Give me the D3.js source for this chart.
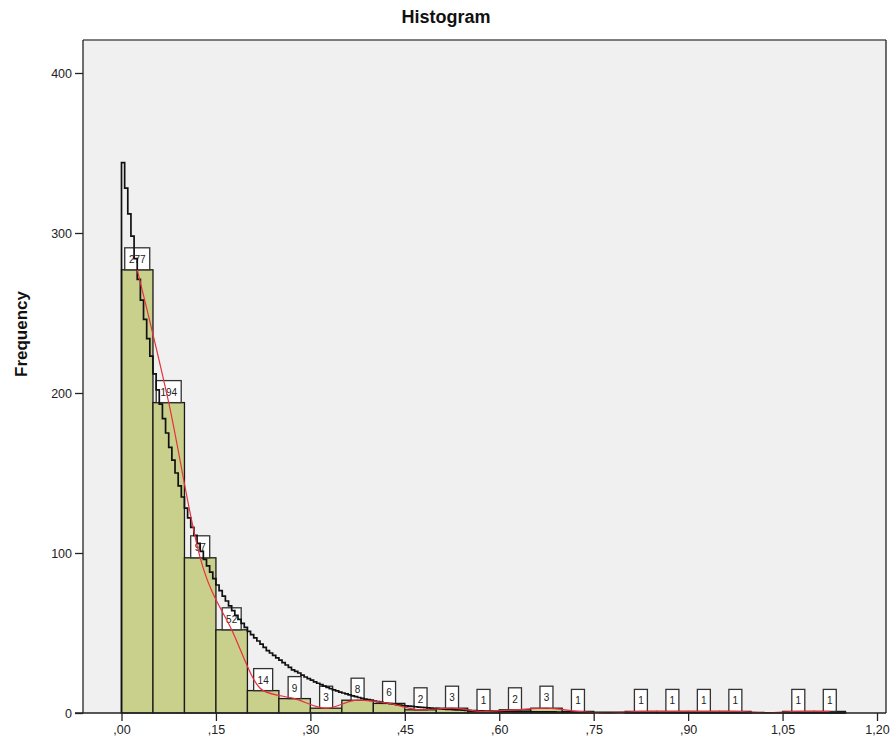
<!DOCTYPE html>
<html>
<head>
<meta charset="utf-8">
<script src="https://cdn.jsdelivr.net/npm/d3@7"></script>
<style>
  body { margin: 0; background: #ffffff; }
  svg { display: block; font-family: Arial, "Liberation Sans", sans-serif; }
</style>
</head>
<body>
<svg id="chart" width="894" height="746"></svg>
<script>
// ---- data ----
const binWidth = 0.05;
const binStarts = [0.00,0.05,0.10,0.15,0.20,0.25,0.30,0.35,0.40,0.45,0.50,0.55,0.60,0.65,0.70,0.75,0.80,0.85,0.90,0.95,1.00,1.05,1.10];
const binCounts = [277,194,97,52,14,9,3,8,6,2,3,1,2,3,1,0,1,1,1,1,0,1,1];
const yTicks = [0,100,200,300,400];
const xTicks = [0,0.15,0.30,0.45,0.60,0.75,0.90,1.05,1.20];
const xTickLabels = [",00",",15",",30",",45",",60",",75",",90","1,05","1,20"];
// fitted curve: head every 0.005 from 0 to 0.60
const headStep = 0.005;
const curveHeadFreq = [344,328,312,298,284,271,258,246,234,223,212,202,193,184,175,166,158,150,142,135,
  128,122,116,111,106,101,96,92,88,84,80,76.5,73,70,67,64,61,58.5,56,53.5,
  51,49,47,45,43,41,39,37.5,36,34.5,33,31.5,30,28.5,27,26,25,23.7,22.5,21.5,
  20.5,19.5,18.6,17.7,16.8,16,15.2,14.5,13.8,13.1,12.5,11.9,11.3,10.7,10.2,9.7,9.2,8.7,8.3,7.9,
  7.5,7.1,6.8,6.4,6.1,5.8,5.5,5.2,5.0,4.7,4.5,4.3,4.1,3.9,3.7,3.5,3.3,3.15,3.0,2.85,
  2.7,2.55,2.4,2.3,2.2,2.1,2.0,1.9,1.8,1.7,1.6,1.52,1.45,1.38,1.3,1.25,1.2,1.15,1.1,1.05,1.0];
// tail every 0.01 from 0.61 to 1.15
const tailStart = 0.61, tailStep = 0.01;
const curveTailFreq = [0.95,0.9,0.85,0.8,0.76,0.72,0.68,0.65,0.62,0.59,0.56,0.53,0.5,0.48,0.46,0.44,0.42,0.4,0.38,0.36,
  0.35,0.34,0.33,0.32,0.31,0.3,0.29,0.28,0.27,0.26,0.25,0.24,0.23,0.22,0.21,0.2,0.2,0.19,0.19,0.18,
  0.18,0.17,0.17,0.16,0.16,0.15,0.15,0.14,0.14,0.13,0.13,0.12,0.12,0.11,0.11];

// ---- layout ----
const svg = d3.select("#chart");
const plot = {left: 83, right: 886, top: 40, bottom: 713};
const x = d3.scaleLinear().domain([0, 1.2]).range([121.5, 877]);
const y = d3.scaleLinear().domain([0, 400]).range([713, 73]);

// plot background
svg.append("rect")
  .attr("x", plot.left).attr("y", plot.top)
  .attr("width", plot.right - plot.left).attr("height", plot.bottom - plot.top)
  .attr("fill", "#f0f0f0");

// title
svg.append("text")
  .attr("x", 446).attr("y", 23)
  .attr("text-anchor", "middle")
  .attr("font-size", 18).attr("font-weight", "bold")
  .attr("fill", "#111")
  .text("Histogram");

// y label
svg.append("text")
  .attr("transform", "translate(27,334) rotate(-90)")
  .attr("text-anchor", "middle")
  .attr("font-size", 17).attr("font-weight", "bold")
  .attr("fill", "#111")
  .text("Frequency");

// bars
const bins = binStarts.map((s, i) => ({x0: s, x1: s + binWidth, n: binCounts[i]})).filter(d => d.n > 0);
svg.append("g").selectAll("rect").data(bins).join("rect")
  .attr("x", d => x(d.x0)).attr("y", d => y(d.n))
  .attr("width", d => x(d.x1) - x(d.x0))
  .attr("height", d => y(0) - y(d.n))
  .attr("fill", "#c9d08b")
  .attr("stroke", "#1a1a1a").attr("stroke-width", 1.3);

// label boxes
const lab = svg.append("g").selectAll("g").data(bins).join("g")
  .attr("transform", d => `translate(${x(d.x0 + binWidth/2)},${y(d.n)})`);
lab.append("rect")
  .attr("x", d => -(7 + 6*String(d.n).length)/2)
  .attr("y", -22)
  .attr("width", d => 7 + 6*String(d.n).length)
  .attr("height", 22)
  .attr("fill", "#ffffff").attr("stroke", "#333").attr("stroke-width", 1.3);
lab.append("text")
  .attr("x", 0).attr("y", -7)
  .attr("text-anchor", "middle")
  .attr("font-size", 10).attr("fill", "#222")
  .text(d => d.n);

// black fitted curve (stepped)
const curvePts = [[0, 0]]
  .concat(curveHeadFreq.map((v, i) => [i*headStep, v]))
  .concat(curveTailFreq.map((v, i) => [tailStart + i*tailStep, v]));
curvePts.push([tailStart + (curveTailFreq.length - 1)*tailStep, 0]);
svg.append("path")
  .datum(curvePts)
  .attr("d", d3.line().x(d => x(d[0])).y(d => y(d[1])).curve(d3.curveStepAfter))
  .attr("fill", "none").attr("stroke", "#111").attr("stroke-width", 1.7);

// red frequency polygon (smoothed)
const mids = binStarts.map((s, i) => [s + binWidth/2, binCounts[i]]);
svg.append("path")
  .datum(mids)
  .attr("d", d3.line().x(d => x(d[0])).y(d => y(d[1])).curve(d3.curveMonotoneX))
  .attr("fill", "none").attr("stroke", "#e8303c").attr("stroke-width", 1.2);

// axes
const yAxis = svg.append("g")
  .attr("transform", `translate(${plot.left},0)`)
  .call(d3.axisLeft(y).tickValues(yTicks).tickSize(8).tickPadding(3));
yAxis.select(".domain").remove();
const xAxis = svg.append("g")
  .attr("transform", `translate(0,${plot.bottom})`)
  .call(d3.axisBottom(x).tickValues(xTicks).tickSize(8).tickPadding(4)
    .tickFormat((d, i) => xTickLabels[i]));
xAxis.select(".domain").remove();
svg.selectAll(".tick text").attr("font-size", 12.5).attr("fill", "#222")
  .attr("font-family", "Arial, 'Liberation Sans', sans-serif");
svg.selectAll(".tick line").attr("stroke", "#222").attr("stroke-width", 1.3);

// plot frame
svg.append("line").attr("x1", plot.left).attr("x2", plot.right).attr("y1", plot.top).attr("y2", plot.top)
  .attr("stroke", "#555").attr("stroke-width", 1.5);
svg.append("line").attr("x1", plot.right).attr("x2", plot.right).attr("y1", plot.top).attr("y2", plot.bottom)
  .attr("stroke", "#222").attr("stroke-width", 1.3);
svg.append("line").attr("x1", plot.left).attr("x2", plot.left).attr("y1", plot.top).attr("y2", plot.bottom)
  .attr("stroke", "#222").attr("stroke-width", 1.3);
svg.append("line").attr("x1", plot.left - 8).attr("x2", plot.right).attr("y1", plot.bottom).attr("y2", plot.bottom)
  .attr("stroke", "#222").attr("stroke-width", 1.3);
</script>
</body>
</html>
